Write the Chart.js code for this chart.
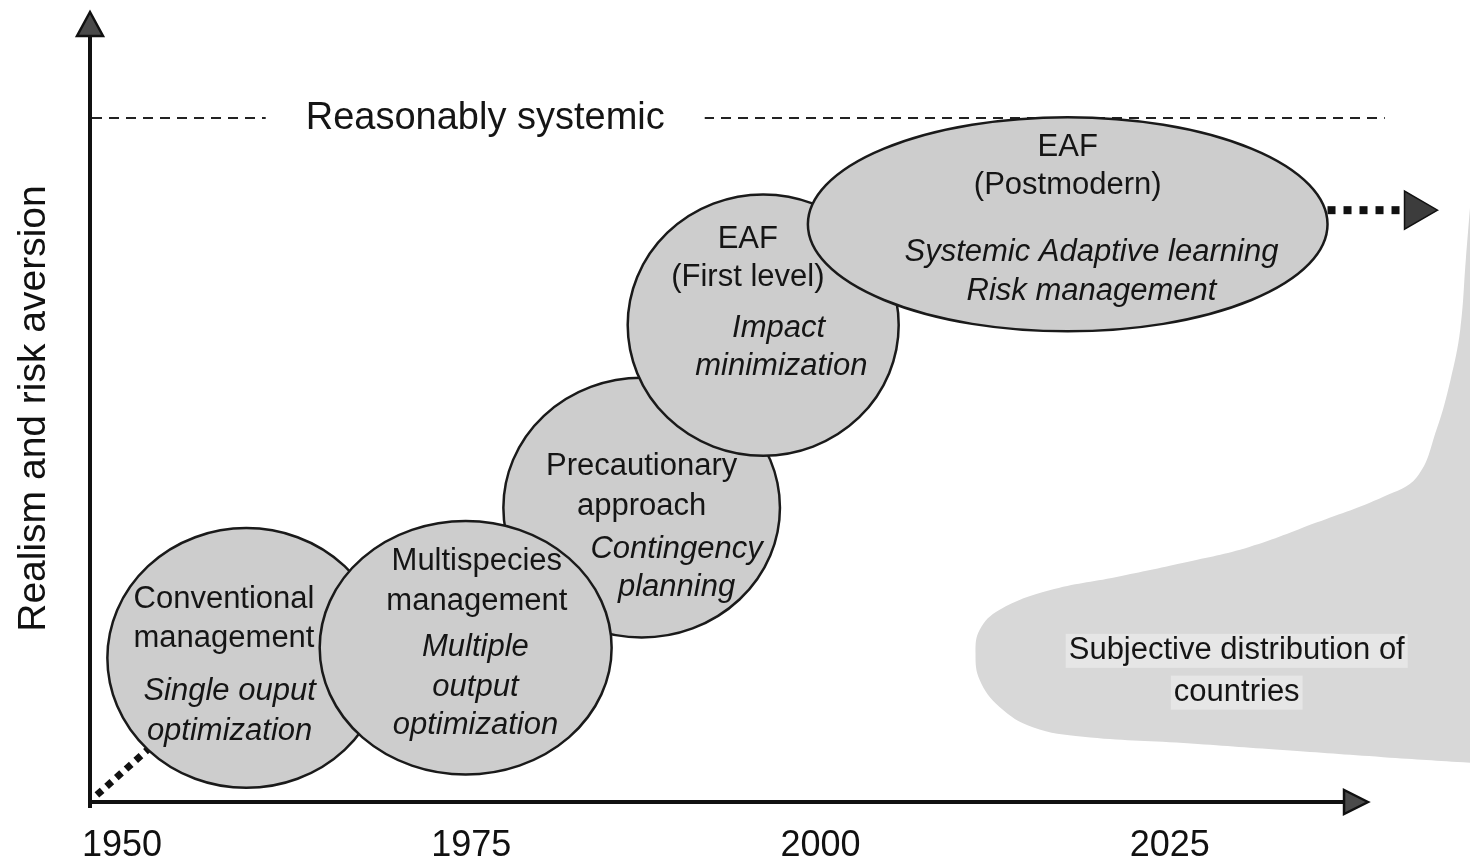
<!DOCTYPE html>
<html>
<head>
<meta charset="utf-8">
<script src="https://cdn.jsdelivr.net/npm/chart.js@4.4.1/dist/chart.umd.min.js"></script>
<style>
  html, body { margin: 0; padding: 0; background: #fff; overflow: hidden; }
  #wrap { width: 1470px; height: 859px; position: relative; }
</style>
</head>
<body>
<div id="wrap"><canvas id="chart"></canvas></div>
<script>
const FONT = "'Liberation Sans', Arial, Helvetica, sans-serif"

// x axis = year, y axis = realism / risk aversion (0..100, arbitrary)
const yearTicks = [1950, 1975, 2000, 2025]

// management stages, drawn as ellipses (centre and half spans in axis units)
const stageNames = ['Conventional', 'Multispecies', 'Precautionary', 'EAF first level', 'EAF postmodern']
const stageYear = [1958.9, 1974.6, 1987.2, 1995.9, 2017.7]
const stageLevel = [18.3, 19.6, 37.4, 60.6, 73.4]
const stageHalfYears = [9.95, 10.45, 9.9, 9.7, 18.6]
const stageHalfLevel = [16.5, 16.1, 16.5, 16.6, 13.6]
const stageDrawOrder = [2, 0, 1, 3, 4]

// "reasonably systemic" ceiling
const systemicLevel = 86.9
const systemicYears = [1947.85, 2040.4]

// outline of the subjective distribution of countries
const countriesYears = [2046.5, 2046.2, 2045.8, 2045.1, 2044.1, 2042.7, 2040.3, 2035.5, 2030.7, 2026.0, 2021.2,
  2016.4, 2012.8, 2011.4, 2011.1, 2011.4, 2012.8, 2015.2, 2018.8, 2026.0, 2033.1, 2040.3, 2046.5]
const countriesLevel = [75.5, 68.9, 60.0, 53.6, 47.3, 41.3, 38.8, 35.5, 32.4, 30.4, 28.6,
  26.9, 24.4, 21.9, 18.9, 15.5, 12.1, 9.5, 8.3, 7.5, 6.6, 5.7, 5.0]

// dotted trend arrows (in from the origin, out of the last stage)
const trendInYears = [1948.2, 1952.0]
const trendInLevel = [0.9, 6.9]
const trendOutYears = [2036.3, 2042.6]
const trendOutLevel = [75.2, 75.2]

const xMin = 1947.85, xMax = 2046.5, xArrowEnd = 2039.2
const yMin = 0, yMax = 100

// text blocks: [text, year, level, italic]
const notes = [
  ['Conventional', 1957.3, 25.7, false],
  ['management', 1957.3, 20.8, false],
  ['Single ouput', 1957.7, 14.0, true],
  ['optimization', 1957.7, 9.0, true],
  ['Multispecies', 1975.4, 30.6, false],
  ['management', 1975.4, 25.5, false],
  ['Multiple', 1975.3, 19.6, true],
  ['output', 1975.3, 14.6, true],
  ['optimization', 1975.3, 9.7, true],
  ['Precautionary', 1987.2, 42.6, false],
  ['approach', 1987.2, 37.6, false],
  ['Contingency', 1989.7, 32.1, true],
  ['planning', 1989.7, 27.3, true],
  ['EAF', 1994.8, 71.5, false],
  ['(First level)', 1994.8, 66.7, false],
  ['Impact', 1997.0, 60.2, true],
  ['minimization', 1997.2, 55.3, true],
  ['EAF', 2017.7, 83.2, false],
  ['(Postmodern)', 2017.7, 78.3, false],
  ['Systemic Adaptive learning', 2019.4, 69.9, true],
  ['Risk management', 2019.4, 64.9, true]
]
const countriesNotes = [
  ['Subjective distribution of', 2029.8, 19.2],
  ['countries', 2029.8, 13.9]
]
const systemicNote = ['Reasonably systemic', 1976.0, 86.8]

const toPoints = (xs, ys) => xs.map((x, i) => ({x: x, y: ys[i]}))

function arrowHead(ctx, tipX, tipY, dir, len, half) {
  ctx.beginPath()
  if (dir === 'up') {
    ctx.moveTo(tipX, tipY)
    ctx.lineTo(tipX - half, tipY + len)
    ctx.lineTo(tipX + half, tipY + len)
  } else {
    ctx.moveTo(tipX, tipY)
    ctx.lineTo(tipX - len, tipY - half)
    ctx.lineTo(tipX - len, tipY + half)
  }
  ctx.closePath()
  ctx.fillStyle = '#4a4a4a'
  ctx.fill()
  ctx.lineWidth = 2.5
  ctx.strokeStyle = '#111'
  ctx.stroke()
}

const diagramPlugin = {
  id: 'diagram',
  afterDatasetsDraw(chart) {
    const {ctx} = chart
    const xs = chart.scales.x, ys = chart.scales.y
    ctx.save()
    stageDrawOrder.forEach(i => {
      const cx = xs.getPixelForValue(stageYear[i])
      const cy = ys.getPixelForValue(stageLevel[i])
      const rx = Math.abs(xs.getPixelForValue(stageYear[i] + stageHalfYears[i]) - cx)
      const ry = Math.abs(ys.getPixelForValue(stageLevel[i] + stageHalfLevel[i]) - cy)
      ctx.beginPath()
      ctx.ellipse(cx, cy, rx, ry, 0, 0, Math.PI * 2)
      ctx.fillStyle = '#cdcdcd'
      ctx.fill()
      ctx.lineWidth = 2.5
      ctx.strokeStyle = '#1a1a1a'
      ctx.stroke()
    })
    ctx.restore()
  },
  afterDraw(chart) {
    const {ctx, chartArea} = chart
    const xs = chart.scales.x, ys = chart.scales.y
    ctx.save()

    // axes with arrow heads
    const ox = chartArea.left - 2
    const oy = ys.getPixelForValue(yMin)
    const xEnd = xs.getPixelForValue(xArrowEnd)
    ctx.strokeStyle = '#111'
    ctx.lineWidth = 4
    ctx.beginPath()
    ctx.moveTo(ox, oy + 6)
    ctx.lineTo(ox, chartArea.top + 20)
    ctx.moveTo(ox - 2, oy)
    ctx.lineTo(xEnd - 20, oy)
    ctx.stroke()
    arrowHead(ctx, ox, chartArea.top - 3, 'up', 24, 13)
    arrowHead(ctx, xEnd, oy, 'right', 24, 12)

    // reasonably systemic label over the dashed line
    ctx.font = '38px ' + FONT
    ctx.textAlign = 'center'
    ctx.textBaseline = 'middle'
    const sx = xs.getPixelForValue(systemicNote[1])
    const sy = ys.getPixelForValue(systemicNote[2])
    const sw = ctx.measureText(systemicNote[0]).width
    ctx.fillStyle = '#fff'
    ctx.fillRect(sx - sw / 2 - 40, sy - 22, sw + 80, 44)
    ctx.fillStyle = '#151515'
    ctx.fillText(systemicNote[0], sx, sy)

    // text inside stages
    notes.forEach(([text, yr, lv, italic]) => {
      ctx.font = (italic ? 'italic ' : '') + '31px ' + FONT
      ctx.fillStyle = '#151515'
      ctx.fillText(text, xs.getPixelForValue(yr), ys.getPixelForValue(lv))
    })

    // text on the distribution
    ctx.font = '31px ' + FONT
    countriesNotes.forEach(([text, yr, lv]) => {
      const px = xs.getPixelForValue(yr), py = ys.getPixelForValue(lv)
      const w = ctx.measureText(text).width
      ctx.fillStyle = '#e6e6e6'
      ctx.fillRect(px - w / 2 - 3, py - 17, w + 6, 34)
      ctx.fillStyle = '#151515'
      ctx.fillText(text, px, py)
    })
    ctx.restore()
  }
}

new Chart(document.getElementById('chart'), {
  type: 'scatter',
  data: {
    datasets: [
      {
        label: 'Subjective distribution of countries',
        data: toPoints(countriesYears, countriesLevel),
        showLine: true,
        fill: 'shape',
        backgroundColor: '#d8d8d8',
        borderColor: 'rgba(0,0,0,0)',
        borderWidth: 0,
        pointRadius: 0,
        tension: 0.4,
        clip: false
      },
      {
        label: 'Reasonably systemic',
        data: toPoints(systemicYears, [systemicLevel, systemicLevel]),
        showLine: true,
        borderColor: '#222',
        borderWidth: 2,
        borderDash: [10, 7],
        pointRadius: 0
      },
      {
        label: 'trend in',
        data: toPoints(trendInYears, trendInLevel),
        showLine: true,
        borderColor: '#111',
        borderWidth: 7,
        borderDash: [7, 6],
        pointRadius: 0,
        clip: false
      },
      {
        label: 'trend out',
        data: toPoints(trendOutYears, trendOutLevel),
        showLine: true,
        borderColor: '#111',
        borderWidth: 8,
        borderDash: [8, 8],
        pointStyle: 'triangle',
        pointRotation: 90,
        pointRadius: [0, 22],
        pointBackgroundColor: '#3c3c3c',
        pointBorderColor: '#111',
        pointBorderWidth: 1.5,
        clip: false
      }
    ]
  },
  options: {
    responsive: true,
    maintainAspectRatio: false,
    animation: false,
    layout: { autoPadding: false, padding: { top: 15, left: 0, right: 0, bottom: 0 } },
    plugins: { legend: { display: false }, tooltip: { enabled: false } },
    scales: {
      x: {
        type: 'linear',
        min: xMin,
        max: xMax,
        grid: { display: false },
        border: { display: false },
        afterBuildTicks: s => { s.ticks = yearTicks.map(v => ({value: v})) },
        afterFit: s => { s.height = 57; s.paddingLeft = 0; s.paddingRight = 0 },
        ticks: {
          color: '#111',
          font: { family: FONT, size: 36 },
          padding: 14,
          maxRotation: 0,
          autoSkip: false,
          callback: v => String(v)
        }
      },
      y: {
        min: yMin,
        max: yMax,
        grid: { display: false },
        border: { display: false },
        ticks: { display: false },
        afterFit: s => { s.width = 92; s.paddingTop = 0; s.paddingBottom = 0 },
        title: {
          display: true,
          text: 'Realism and risk aversion',
          color: '#111',
          font: { family: FONT, size: 39 },
          padding: { top: 11, bottom: 0 }
        }
      }
    }
  },
  plugins: [diagramPlugin]
})
</script>
</body>
</html>
